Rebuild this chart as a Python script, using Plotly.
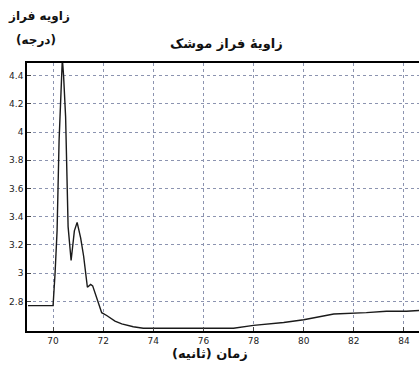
import plotly.graph_objects as go

time_s = [69.0, 70.0, 70.08, 70.16, 70.24, 70.32, 70.37, 70.42, 70.5, 70.6, 70.72, 70.85, 70.96, 71.1, 71.22, 71.37, 71.5, 71.58, 71.74, 71.94, 72.14, 72.47, 72.74, 73.2,
          73.6, 74.5, 75.2, 76.0, 77.2, 78.0, 79.2, 80.0, 81.2, 82.5, 83.3, 84.1, 84.6]
pitch_deg = [2.77, 2.77, 3.0, 3.3, 3.94, 4.4, 4.52, 4.4, 4.11, 3.33, 3.09, 3.3, 3.36, 3.25, 3.12, 2.90, 2.92, 2.91, 2.83, 2.72, 2.70, 2.66, 2.64, 2.62,
             2.61, 2.61, 2.605, 2.61, 2.61, 2.63, 2.65, 2.67, 2.71, 2.72, 2.73, 2.73, 2.735]

x_ticks = [70, 72, 74, 76, 78, 80, 82, 84]
y_ticks = [2.8, 3.0, 3.2, 3.4, 3.6, 3.8, 4.0, 4.2, 4.4]
y_tick_labels = ["2.8", "3", "3.2", "3.4", "3.6", "3.8", "4", "4.2", "4.4"]

title_text = "زاویهٔ فراز موشک"
y_title_1 = "زاویه فراز"
y_title_2 = "(درجه)"
x_title = "زمان (ثانیه)"

fig = go.Figure()
fig.add_trace(go.Scatter(x=time_s, y=pitch_deg, mode="lines",
                         line=dict(color="#1a1a1a", width=1.4), showlegend=False))

fig.update_layout(
    width=419, height=365,
    margin=dict(l=27, r=0, t=63, b=34, autoexpand=False),
    paper_bgcolor="white", plot_bgcolor="white",
    font=dict(family="DejaVu Sans", color="#222"),
)
fig.update_xaxes(range=[68.96, 84.6], tickvals=x_ticks, ticks="inside", ticklen=4,
                 tickfont=dict(size=9, color="#222"), automargin=False,
                 showgrid=True, gridcolor="#8c94b0", griddash="dot", gridwidth=1,
                 showline=True, linecolor="black", linewidth=2, mirror=True, zeroline=False)
fig.update_yaxes(range=[2.59, 4.49], tickvals=y_ticks, ticktext=y_tick_labels,
                 ticks="inside", ticklen=4, tickfont=dict(size=9, color="#222"), automargin=False,
                 showgrid=True, gridcolor="#8c94b0", griddash="dot", gridwidth=1,
                 showline=True, linecolor="black", linewidth=1.5, mirror=True, zeroline=False)

ann_font = dict(size=12, color="#111", family="DejaVu Sans", weight="bold")
fig.add_annotation(text=title_text, xref="paper", yref="paper", x=0.508, y=1.0,
                   xanchor="center", yanchor="middle", yshift=20, showarrow=False,
                   font=dict(size=13, color="#111", family="DejaVu Sans", weight="bold"))
fig.add_annotation(text=y_title_1, xref="paper", yref="paper", x=0.031, y=1.0,
                   xanchor="center", yanchor="middle", yshift=47, showarrow=False, font=ann_font)
fig.add_annotation(text=y_title_2, xref="paper", yref="paper", x=0.023, y=1.0,
                   xanchor="center", yanchor="middle", yshift=23, showarrow=False, font=ann_font)
fig.add_annotation(text=x_title, xref="paper", yref="paper", x=0.467, y=0,
                   xanchor="center", yanchor="middle", yshift=-22, showarrow=False,
                   font=dict(size=13, color="#111", family="DejaVu Sans", weight="bold"))

fig.write_html("out.html", config={"displayModeBar": False},
               post_script="document.body.style.margin='0';")
